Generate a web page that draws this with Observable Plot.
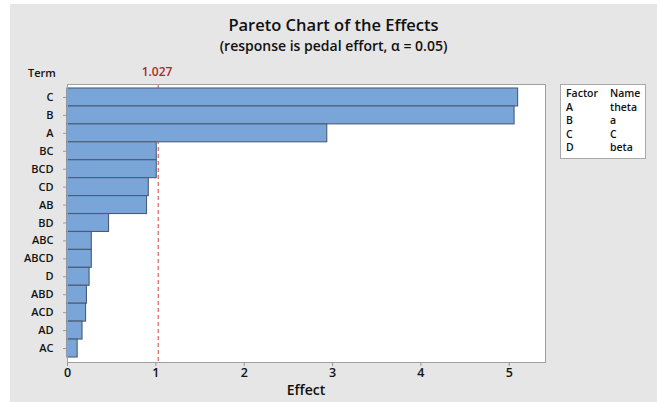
<!DOCTYPE html>
<html>
<head>
<meta charset="utf-8">
<script src="https://cdn.jsdelivr.net/npm/d3@7"></script>
<script src="https://cdn.jsdelivr.net/npm/@observablehq/plot@0.6"></script>
<style>
  html, body { margin: 0; padding: 0; background: #ffffff; }
  #wrap { position: relative; width: 657px; height: 402px; overflow: hidden; font-family: "Open Sans", sans-serif; color: #111; }
  #panel { position: absolute; left: 10px; top: 4px; right: 0; bottom: 0; background: #e6e6e6; }
  #chart { position: absolute; left: 0; top: 0; }
  .t { position: absolute; white-space: nowrap; line-height: 1; }
  #title { left: 10px; right: 0; top: 17px; text-align: center; font-size: 16.5px; font-weight: 600; }
  #subtitle { left: 10px; right: 0; top: 39px; text-align: center; font-size: 14px; font-weight: 600; }
  #term { left: 28px; top: 67px; font-size: 11px; font-weight: 600; }
  #crit { left: 157px; top: 66px; transform: translateX(-50%); font-size: 12px; color: #ad2a2a; font-weight: 600; }
  #xlabel { left: 306px; top: 383px; transform: translateX(-50%); font-size: 14px; font-weight: 600; }
  #legend { position: absolute; left: 560px; top: 84px; width: 86px; height: 75px; background: #fff; border: 1px solid #a8a8a8; box-sizing: border-box; font-size: 10.5px; font-weight: 600; }
  #legend table { border-collapse: collapse; margin: 2px 0 0 5px; }
  #legend td { padding: 0; height: 13.5px; line-height: 13.5px; }
  #legend td.f { width: 44px; }
</style>
</head>
<body>
<div id="wrap">
  <div id="panel"></div>
  <div id="chart"></div>
  <div class="t" id="title"></div>
  <div class="t" id="subtitle"></div>
  <div class="t" id="term"></div>
  <div class="t" id="crit"></div>
  <div class="t" id="xlabel"></div>
  <div id="legend"><table id="ltab"></table></div>
</div>
<script>
// ---- data ----
const terms   = ["C", "B", "A", "BC", "BCD", "CD", "AB", "BD", "ABC", "ABCD", "D", "ABD", "ACD", "AD", "AC"];
const effects = [5.10, 5.06, 2.94, 1.01, 1.01, 0.92, 0.90, 0.47, 0.275, 0.275, 0.25, 0.22, 0.21, 0.17, 0.115];
const critical = 1.027;
const xTicks = [0, 1, 2, 3, 4, 5];
const factors = ["A", "B", "C", "D"];
const factorNames = ["theta", "a", "C", "beta"];
const titleText = "Pareto Chart of the Effects";
const subtitleText = "(response is pedal effort, \u03b1 = 0.05)";
const xLabelText = "Effect";
const yLabelText = "Term";

const data = terms.map((t, i) => ({term: t, effect: effects[i]}));

document.getElementById("title").textContent = titleText;
document.getElementById("subtitle").textContent = subtitleText;
document.getElementById("term").textContent = yLabelText;
document.getElementById("crit").textContent = String(critical);
document.getElementById("xlabel").textContent = xLabelText;

const ltab = document.getElementById("ltab");
const rows = [["Factor", "Name"]].concat(factors.map((f, i) => [f, factorNames[i]]));
for (const [a, b] of rows) {
  const tr = document.createElement("tr");
  const td1 = document.createElement("td"); td1.className = "f"; td1.textContent = a;
  const td2 = document.createElement("td"); td2.textContent = b;
  tr.appendChild(td1); tr.appendChild(td2); ltab.appendChild(tr);
}

const chart = Plot.plot({
  width: 657,
  height: 402,
  marginLeft: 67,
  marginRight: 112,
  marginTop: 84,
  marginBottom: 40,
  style: { background: "transparent", fontFamily: "'Open Sans', sans-serif", overflow: "visible" },
  x: { domain: [0, 5.41] },
  y: { domain: terms, padding: 0, insetTop: 4, insetBottom: 5, round: false },
  marks: [
    Plot.frame({ fill: "white", stroke: "none" }),
    Plot.ruleX([critical], { stroke: "#e26262", strokeWidth: 1.2, strokeDasharray: "4,3" }),
    Plot.barX(data, { x: "effect", y: "term", fill: "#7aa5d8", stroke: "#4b5c74", strokeWidth: 1.1 }),
    Plot.frame({ stroke: "#a0a0a0" }),
    Plot.axisX({ ticks: xTicks, tickSize: 4, tickPadding: 2, label: null, fontSize: 12.5, fontWeight: 600, fill: "#111", stroke: "#999", tickFormat: d3.format("d") }),
    Plot.axisY({ tickSize: 4, tickPadding: 10, label: null, fontSize: 11, fontWeight: 600, fill: "#111", stroke: "#999" })
  ]
});
document.getElementById("chart").appendChild(chart);
</script>
</body>
</html>
